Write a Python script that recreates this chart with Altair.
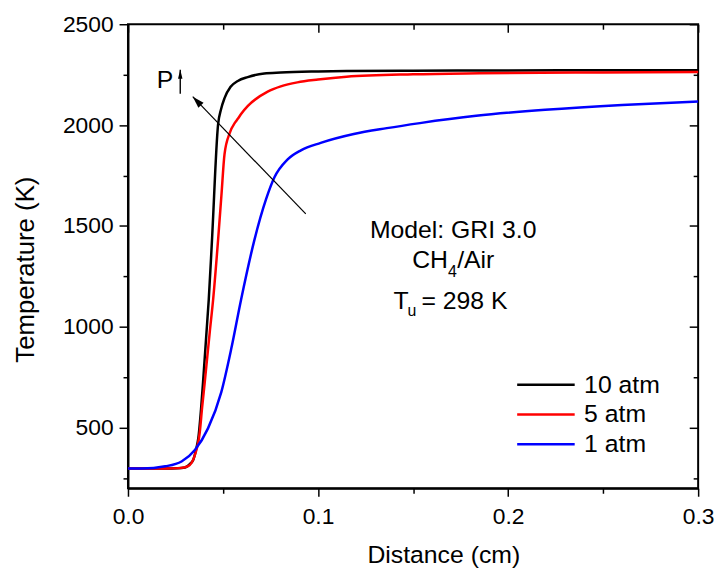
import altair as alt
import pandas as pd

FONT = "Liberation Sans"

# ---- data: temperature profiles (distance in cm, T in K) ----
series_names = ["10 atm", "5 atm", "1 atm"]
series_colors = ["#000000", "#ff0000", "#0000ff"]

x_10 = [0.0, 0.01, 0.02, 0.026, 0.030, 0.0325, 0.0343, 0.036, 0.037, 0.0385, 0.0395,
        0.0413, 0.0425, 0.0442, 0.0474, 0.0490, 0.0508, 0.054, 0.0578, 0.063, 0.0717,
        0.0804, 0.1, 0.115, 0.15, 0.2, 0.25, 0.3]
t_10 = [298, 298, 298, 299, 303, 320, 340, 400, 448, 600, 726,
        972, 1135, 1430, 2003, 2080, 2134, 2190, 2219, 2238, 2256,
        2261, 2266, 2268, 2270, 2271, 2272, 2272]

x_5 = [0.0, 0.01, 0.02, 0.027, 0.0317, 0.0352, 0.0378, 0.039, 0.0404, 0.0430, 0.0448,
       0.0474, 0.04915, 0.0508, 0.0535, 0.0565, 0.0579, 0.0595, 0.0631, 0.0735, 0.0804,
       0.0891, 0.1, 0.115, 0.15, 0.185, 0.25, 0.3]
t_5 = [298, 298, 298, 300, 310, 365, 480, 600, 726, 972, 1135,
       1430, 1650, 1856, 1960, 2015, 2033, 2055, 2095, 2166, 2192,
       2212, 2226, 2240, 2252, 2257, 2261, 2263]

x_1 = [0.0, 0.0074, 0.0196, 0.0282, 0.0352, 0.0421, 0.0491, 0.0543, 0.0595, 0.0665,
       0.0727, 0.0770, 0.0840, 0.0910, 0.1014, 0.1188, 0.1362, 0.1536, 0.1832, 0.2195,
       0.26, 0.3]
t_1 = [298, 298, 309, 333, 390, 497, 677, 890, 1135, 1430,
       1634, 1740, 1830, 1875, 1912, 1956, 1985, 2010, 2046, 2076,
       2100, 2117]

# ---- axis ticks ----
x_major = [0.0, 0.1, 0.2, 0.3]
x_minor = [0.05, 0.15, 0.25]
y_major = [500, 1000, 1500, 2000, 2500]
y_minor = [250, 750, 1250, 1750, 2250]

# ---- annotations (data coordinates) ----
center_text = ["Model: GRI 3.0"]
center_x = [0.1711]
center_t = [1440]

right_text = ["CH", "T"]
right_x = [0.16836, 0.14765]
right_t = [1289.5, 1088]

left_text = ["/Air", "= 298 K", "P"]
left_x = [0.17322, 0.15443, 0.01513]
left_t = [1289.5, 1088, 2182]

sub_text = ["4", "u"]
sub_x = [0.16836, 0.14713]
sub_t = [1246.8, 1051.7]

big_arrow_x = [0.09355, 0.03407]   # tail, tip
big_arrow_t = [1560, 2141]
small_arrow_x = [0.0275, 0.0275]
small_arrow_t = [2156, 2274]

rows = []
for name, xs_, ts_ in zip(series_names, [x_10, x_5, x_1], [t_10, t_5, t_1]):
    for a, b in zip(xs_, ts_):
        rows.append({"series": name, "x": a, "T": b})
df = pd.DataFrame(rows)

xs = alt.Scale(domain=[0, 0.3], nice=False, zero=False)
ys = alt.Scale(domain=[200, 2500], nice=False, zero=False)

AX = dict(grid=False, domainColor="black", tickColor="black", labelColor="black",
          titleColor="black", labelFont=FONT, titleFont=FONT, tickWidth=1.5, domainWidth=2)

lines = alt.Chart(df).mark_line(strokeWidth=2.5, interpolate="monotone").encode(
    x=alt.X("x:Q", scale=xs, axis=alt.Axis(
        orient="bottom", values=x_major, format=".1f", tickSize=8, labelFontSize=23,
        labelPadding=9, labelFlush=False, title="Distance (cm)", titleFontSize=25,
        titleFontWeight="normal", titleX=318, titleY=75, titleBaseline="alphabetic",
        titleAlign="center", **AX)),
    y=alt.Y("T:Q", scale=ys, axis=alt.Axis(
        orient="left", values=y_major, format="d", tickSize=9, labelFontSize=23,
        labelPadding=6, title="Temperature (K)", titleFontSize=26, titleFontWeight="normal",
        titleX=-95, titleY=247, titleAngle=270, titleBaseline="alphabetic",
        titleAlign="center", **AX)),
    color=alt.Color("series:N", scale=alt.Scale(domain=series_names, range=series_colors),
                    legend=alt.Legend(orient="none", legendX=392, legendY=351,
                                      symbolType="M-1.714,0H6.571", symbolSize=196,
                                      symbolStrokeWidth=2.5, labelFontSize=25,
                                      labelFont=FONT, labelColor="black", labelOffset=43,
                                      rowPadding=4, padding=0, title=None, labelLimit=300)),
)


def tick_layer(xo, xv, xsize, xoff, yo, yv, ysize, yoff):
    return alt.Chart(df).mark_point(opacity=0).encode(
        x=alt.X("x:Q", scale=xs, axis=alt.Axis(orient=xo, values=xv, tickSize=xsize,
                                               offset=xoff, labels=False, domain=False,
                                               title=None, **AX)),
        y=alt.Y("T:Q", scale=ys, axis=alt.Axis(orient=yo, values=yv, tickSize=ysize,
                                               offset=yoff, labels=False, domain=False,
                                               title=None, **AX)),
    )


minor_out = tick_layer("bottom", x_minor, 5, 0, "left", y_minor, 5, 0)
major_in = tick_layer("top", x_major, 8, -8, "right", y_major, 9, -9)
minor_in = tick_layer("top", x_minor, 5, -5, "right", y_minor, 5, -5)


def text_layer(texts, xv, tv, align, size):
    d = pd.DataFrame({"label": texts, "ax": xv, "at": tv})
    return alt.Chart(d).mark_text(align=align, baseline="alphabetic", font=FONT,
                                  fontSize=size, color="black").encode(
        x=alt.X("ax:Q", scale=xs, axis=None),
        y=alt.Y("at:Q", scale=ys, axis=None),
        text="label:N",
    )


t_center = text_layer(center_text, center_x, center_t, "center", 25)
t_right = text_layer(right_text, right_x, right_t, "right", 25)
t_left = text_layer(left_text, left_x, left_t, "left", 25)
t_sub = text_layer(sub_text, sub_x, sub_t, "left", 16)


def arrow_layers(xv, tv, width, shape, size, angle):
    d = pd.DataFrame({"ax": xv, "at": tv, "k": [0, 1]})
    shaft = alt.Chart(d).mark_line(color="black", strokeWidth=width).encode(
        x=alt.X("ax:Q", scale=xs, axis=None),
        y=alt.Y("at:Q", scale=ys, axis=None),
        order="k:Q",
    )
    head = alt.Chart(d.iloc[[1]]).mark_point(shape=shape, filled=True, color="black",
                                             opacity=1, size=size, angle=angle).encode(
        x=alt.X("ax:Q", scale=xs, axis=None),
        y=alt.Y("at:Q", scale=ys, axis=None),
    )
    return [shaft, head]


big = arrow_layers(big_arrow_x, big_arrow_t, 1.2, "M0,0L0.3,1L-0.3,1Z", 576, 316)
small = arrow_layers(small_arrow_x, small_arrow_t, 1.4, "M0,0L0.25,1L-0.25,1Z", 324, 0)

chart = alt.layer(
    minor_out, major_in, minor_in, lines, *big, *small, t_center, t_right, t_left, t_sub
).resolve_axis(x="independent", y="independent").properties(
    width=575, height=468,
    padding={"left": 121, "top": 14, "right": 17, "bottom": 79},
    autosize=alt.AutoSizeParams(type="none"),
).configure_view(stroke="black", strokeWidth=2)

chart.save("out.html", embed_options={"renderer": "svg", "actions": False})
